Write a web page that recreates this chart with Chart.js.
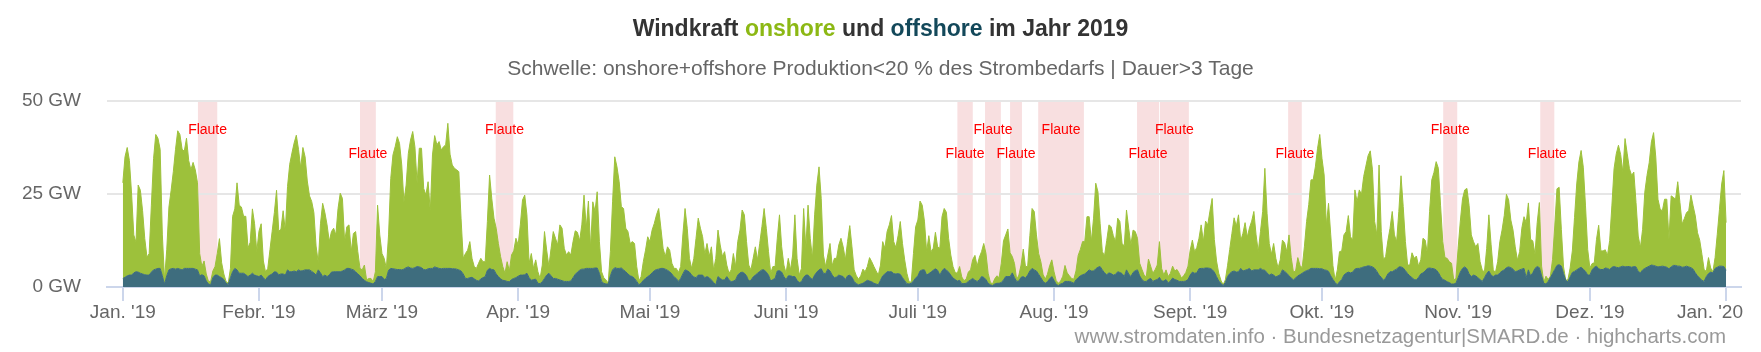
<!DOCTYPE html>
<html lang="de">
<head>
<meta charset="utf-8">
<title>Windkraft onshore und offshore im Jahr 2019</title>
<script src="https://cdn.jsdelivr.net/npm/chart.js@4.4.1/dist/chart.umd.min.js"></script>
<style>
  html, body { margin: 0; padding: 0; background: #fff; }
  #wrap { position: relative; width: 1761px; height: 352px; font-family: "Liberation Sans", Arial, sans-serif; }
  #chart { position: absolute; left: 0; top: 0; }
  .txt { position: absolute; white-space: nowrap; }
  #titel { left: 0; width: 1761px; top: 16.5px; text-align: center; font-weight: bold; font-size: 23px; line-height: 23px; color: #333333; }
  #titel .on { color: #8cb814; }
  #titel .off { color: #13485a; }
  #untertitel { left: 0; width: 1761px; top: 56.5px; text-align: center; font-size: 21px; line-height: 21px; color: #666666; }
  #quelle { right: 35px; top: 325.5px; font-size: 20.5px; line-height: 20.5px; color: #999999; }
</style>
</head>
<body>
<div id="wrap">
  <canvas id="chart" width="1761" height="352"></canvas>
  <div class="txt" id="titel">Windkraft <span class="on">onshore</span> und <span class="off">offshore</span> im Jahr 2019</div>
  <div class="txt" id="untertitel">Schwelle: onshore+offshore Produktion&lt;20 % des Strombedarfs | Dauer&gt;3 Tage</div>
  <div class="txt" id="quelle">www.stromdaten.info · Bundesnetzagentur|SMARD.de · highcharts.com</div>
</div>
<script>
// Werte alle 12 Stunden ab 1.1.2019 00:00 (GW), aus der Grafik abgelesen
// gesamt = Oberkante der Fläche (onshore + offshore)
const gesamt = [
  28, 35, 37.5, 34, 25, 14, 12, 27.4, 26, 20.5,
  13, 8, 9, 22, 34.5, 41, 40, 37, 14, 2,
  10, 21.5, 26, 31, 37, 42, 41, 37, 36.5, 40,
  34, 31.5, 33.5, 31.5, 28, 9, 5.5, 7, 3.5, 1.5,
  1.5, 4.3, 5.5, 9, 13, 6.5, 3.5, 1.5, 1, 5,
  19, 21, 28, 22, 21.5, 19, 19, 10.5, 12, 21,
  17, 9.5, 15, 17, 7, 4, 5, 10, 15, 20,
  26, 15, 15.5, 20.5, 15, 27, 33, 36, 38.7, 40.8,
  37, 32, 37.5, 35, 28.5, 24.5, 23, 20, 11, 6.5,
  17, 22.5, 20,
  // Feb./März
  16.7, 12.2, 14.9, 15.8, 14, 21.1, 25.2, 23.8, 12.2, 16.2,
  16.7, 9.5, 14.4, 14.9, 9.5, 5, 4.6, 5.9, 1.9, 2.3,
  2.3, 1.4, 4.1, 22, 14, 9, 7.7, 5, 14, 29.2,
  35.5, 37.7, 40.4, 38.6, 32.8, 22.9, 27.4, 35.9, 39.5, 41.8,
  37.7, 27.9, 37.3, 37.3, 26.5, 24.7, 28.3, 20.3, 35.5, 40.7,
  38.2, 39.1, 36.8, 37.7, 38.2, 44, 35.7, 32.8, 31.9, 31.5,
  31, 18.5, 7.7, 9, 9.9, 12.2, 7.7, 5.5, 5, 6.4,
  7.7, 6.8, 6.8, 17.6, 30.1, 23.8, 18.5, 15.8, 11.7, 8.2,
  5.5, 3.7, 6.8, 4.3, 8.6, 9.7, 13.1, 11.3, 16.7, 23.4,
  24.7,
  // April/Mai
  19.4, 6.4, 9, 5, 7.3, 4.1, 2.3, 5.9, 14.9, 9.9,
  5.5, 10.4, 14.9, 13.1, 11.3, 16.7, 15.8, 10.4, 8.6, 9.5,
  8.6, 12.2, 15.1, 14.7, 12.4, 16.7, 24.7, 15.8, 23.1, 10.4,
  22.9, 20.3, 25.6, 12.2, 4.1, 2.5, 1.9, 1, 9.5, 22.9,
  35, 32.3, 28.3, 21.6, 21.1, 15.8, 14.9, 11.7, 12.2, 11.7,
  5.5, 1.6, 2.8, 6.8, 9.9, 13.5, 12.2, 15.3, 17.1, 19.4,
  21.1, 15.8, 10.4, 8.2, 10.8, 9.9, 6.4, 5, 5, 3.9,
  5.5, 14, 21.1, 15.8, 7.7, 5, 7.7, 13.1, 18.5, 15.8,
  13.5, 8.8, 11.7, 8.2, 10.8, 4.6, 7.7, 15.3, 11.3, 8.2,
  9.5,
  // Mai/Juni
  5.9, 3.7, 4.6, 9, 5.5, 12.2, 15.3, 20.7, 19.4, 12.2,
  5.9, 4.6, 7.7, 10.8, 7.3, 11.7, 16.2, 21.1, 15.8, 9.5,
  3.7, 5.5, 5.5, 13.1, 19.4, 10.8, 5.9, 3.7, 7.7, 4.6,
  8.6, 19.4, 7.7, 3.2, 5, 21.1, 10.4, 22, 13.1, 7.7,
  19.4, 27.4, 32.3, 23.8, 8.6, 5.5, 8.6, 11.7, 5.7, 7.7,
  7.7, 11.3, 13.1, 10.8, 7.3, 12.2, 16.5, 10.8, 4.6, 3,
  2.1, 3, 4.8, 4.1, 5.5, 7.9, 6.8, 5.5, 4.3, 3.2,
  5.9, 12.2, 10.4, 14.9, 16.7, 19.2, 12.2, 10.6, 13.8, 17.6,
  11.7, 7.3, 3.7, 1.4, 1.3, 9, 16.2, 18, 23.1, 22,
  17.7,
  // Juli/Aug.
  9.5, 13.8, 9.5, 10.4, 14.7, 10.8, 10.4, 18.9, 21.1, 20.1,
  13.1, 8.6, 5.5, 3.9, 3.7, 5.5, 2.7, 1.7, 2.1, 4,
  4.6, 7.4, 8.5, 5.6, 8, 9.5, 11.7, 9.1, 3.7, 1.3,
  0.8, 2.2, 3, 2.5, 6.4, 12.4, 14, 15.6, 9.2, 8.2,
  6.3, 2, 3.2, 5.9, 10.2, 5.5, 5.5, 13.8, 21.1, 20.3,
  14, 9, 6.8, 3.4, 2.1, 3.4, 5.7, 7.3, 4.1, 1.7,
  1, 1.6, 2.9, 5.8, 3.8, 3, 2.3, 2.1, 4.3, 8.5,
  10.1, 12.2, 12.2, 18.9, 18.9, 12.2, 18.5, 27.9, 25.6, 17.1,
  9.5, 8.4, 12.5, 16.7, 16.2, 13.8, 12.2, 18.5, 17.6, 11.6,
  11.1,
  // Aug./Sept.
  20.7, 15.8, 11.3, 15.3, 14.9, 13.1, 6.4, 4.8, 3.2, 2.7,
  7.5, 5.6, 3.7, 4.6, 5.9, 12.2, 5, 3.2, 4.6, 2.8,
  3.7, 5.6, 4.3, 4.7, 3.7, 2.4, 3, 3.9, 5.6, 9.9,
  12.6, 9.5, 10.6, 13.1, 16.7, 12.2, 17.7, 16.7, 20.4, 23.8,
  12.8, 7, 3.7, 1.8, 0.6, 1.9, 5.7, 10.1, 14.4, 18.6,
  16.3, 19.4, 12.4, 14.4, 17.3, 13.4, 15.9, 17.7, 20.3, 14,
  9.5, 14.9, 20.3, 31.9, 19.8, 11.7, 8.8, 11.7, 7.7, 5.1,
  7.3, 12.6, 11.9, 9.5, 14, 7.9, 4, 4.3, 7.9, 5.8,
  5.2, 10.8, 17.6, 22.2, 28.8, 28.8, 32.3, 37.3, 41, 34.6,
  30.1,
  // Okt./Nov.
  16.7, 22.5, 14, 5.7, 1.8, 4.6, 9.5, 9.7, 14, 14.9,
  19.2, 13.5, 12.6, 26.1, 22.9, 26.1, 24.9, 29.7, 32.5, 35.3,
  36.6, 31.5, 17.6, 14, 32.8, 14.9, 7.3, 8.2, 12.4, 15.8,
  20.3, 14, 12.2, 20.3, 29.9, 21.6, 12.2, 5.9, 5.9, 9.2,
  7.7, 8.3, 5.6, 7.3, 13.1, 12.6, 9, 20.3, 28.8, 30.8,
  33.7, 31.9, 22, 12.2, 7.9, 7.7, 6.8, 6.4, 1.9, 2.3,
  10.4, 17.7, 23.7, 26.1, 26.5, 21.9, 14, 12.2, 10.8, 11.7,
  6.8, 4.5, 4.1, 10.4, 19.4, 11.5, 4.6, 3.9, 6.8, 12.2,
  15.3, 19.2, 24.9, 23.4, 18, 15.3, 10.8, 7.2, 9.5, 15.8,
  18.9,
  // Nov./Dez.
  17.3, 22.6, 12.8, 12.4, 8.8, 17.3, 22.7, 5.6, 1.3, 2.9,
  2, 2.9, 7.4, 16.4, 26.4, 26.8, 15.5, 5.4, 1.8, 2,
  5.1, 9.7, 18.7, 27.7, 33.6, 36.7, 32.2, 21.8, 10.1, 5.1,
  6.3, 6.5, 12.8, 16.6, 9.7, 9.7, 10, 8.5, 12.5, 21.8,
  31.8, 35.8, 38.1, 35.6, 30.9, 39.9, 35.8, 31.8, 30, 30.9,
  22.7, 13.7, 10.6, 15.5, 25.5, 30, 33.4, 39, 41.5, 34.9,
  23.6, 20.9, 20.5, 23.6, 23.6, 12.8, 24.5, 24.1, 23.6, 28.3,
  22.7, 16.9, 18.4, 20, 20.5, 24.7, 21.8, 19.1, 14.6, 12.6,
  8.8, 4.7, 4.2, 7.9, 5.1, 4.1, 7.9, 14.2, 20.9, 27.7,
  31.3, 17.3
];

// offshore = Oberkante der blauen Fläche (GW)
const offshore = [
  2.3, 2.6, 3, 3.2, 3.2, 3.8, 4.1, 4, 3.7, 3.5,
  3.3, 3.2, 3.2, 4, 4.6, 4.8, 5, 5, 3, 0.8,
  3, 4.6, 4.9, 5, 4.8, 5, 4.8, 4.6, 5, 5,
  5, 5, 5, 4.8, 4.6, 3, 3.3, 3, 1.6, 0.8,
  0.6, 2.5, 3.2, 3.2, 2.8, 2.5, 2, 1, 0.7, 2.5,
  4.1, 5, 4.6, 3.7, 3.7, 3.7, 3.3, 2.8, 3.2, 3.7,
  3.2, 3, 2.8, 3.2, 2.5, 1.9, 2.8, 3.2, 3.5, 4.1,
  4, 3.3, 3.5, 3.5, 3.2, 4.6, 4.1, 4.1, 4.3, 4.1,
  4.6, 4.3, 4.4, 4.6, 4.6, 4.6, 4.2, 3.8, 3.2, 4.6,
  3.8, 2.8, 3.2,
  2.8, 3.2, 4, 4.1, 4.1, 4.1, 4.1, 4.3, 4.6, 5,
  5, 4.8, 4.6, 4.1, 3.5, 3, 2.3, 1.8, 1.4, 1.2,
  1, 0.8, 1.5, 2.8, 2.8, 2.8, 2, 2.3, 4.5, 5,
  4.9, 4.8, 4.7, 4.7, 4.6, 4.8, 5.2, 5.4, 5.1, 5,
  5.2, 5.5, 5.4, 5.2, 4.7, 4.6, 4.9, 5, 5, 5.4,
  5.2, 5, 4.9, 5, 5, 5, 5, 4.9, 4.9, 4.8,
  4.6, 4.3, 3.5, 2.3, 2.3, 2.5, 2.6, 2.2, 1.8, 1.6,
  2.2, 2.5, 2.8, 4.5, 5, 4.7, 4.6, 3.5, 2.8, 2.2,
  1.8, 1.7, 1.5, 1.4, 2, 2.3, 2.5, 2.9, 3.2, 3.2,
  3.3,
  3.7, 2.5, 1.8, 2, 2.1, 1, 0.9, 1.4, 2.3, 3.2,
  3.7, 3, 2.3, 2.3, 2.1, 1.9, 1.7, 1.5, 1.5, 1.5,
  1.6, 2.5, 3.4, 4, 4.5, 4.8, 4.8, 5, 5, 5,
  5, 5.1, 5.1, 3.7, 1.5, 1, 0.8, 0.8, 3, 4.6,
  5.2, 5, 5, 5.1, 4.6, 4.1, 3.5, 3, 2.8, 2.3,
  1.5, 0.6, 1, 1.8, 2.3, 2.8, 3.2, 3.8, 4.4, 4.7,
  4.8, 5, 5, 4.8, 4.5, 4.1, 3.5, 2.7, 2.3, 1.5,
  2.3, 3.5, 4.6, 4.4, 4, 3.2, 2.7, 2.5, 3.2, 3.2,
  3.2, 2.5, 2.8, 2.5, 1.9, 1.2, 0.6, 2.8, 2.3, 1.9,
  1.9,
  2.8, 2, 1.4, 1.6, 1.9, 3.2, 3.8, 4, 3.7, 3,
  1.6, 1.8, 2.7, 3.2, 3.7, 4.2, 4.6, 4.6, 4, 3.2,
  1.6, 2, 2.3, 4.3, 4.4, 4, 2.8, 2, 3, 3,
  2.8, 2.8, 1.8, 1.2, 1.4, 2.6, 3.2, 3.2, 2.5, 2,
  3.2, 4, 4.6, 4.9, 3.7, 3.6, 4.8, 4.3, 3.2, 2.5,
  2.7, 3.2, 3, 2.8, 2, 3, 3.2, 2.6, 1.5, 0.9,
  0.6, 0.8, 1, 1.4, 1.8, 1.6, 1.4, 1, 0.8, 0.6,
  1.8, 3, 3.5, 4.1, 4.1, 4.1, 3.6, 3.5, 3.6, 3.4,
  2.5, 1.7, 0.9, 0.8, 1, 1.6, 2.4, 3, 4.3, 4.6,
  4.6,
  3.2, 3.6, 4, 4.5, 4.9, 4.5, 3.2, 4.3, 5, 4.6,
  4, 3.2, 2.4, 2, 1.6, 1.8, 0.9, 0.9, 1, 1.5,
  1.9, 2.3, 1.8, 1.5, 1.9, 2.8, 2.6, 2, 1, 0.6,
  0.4, 0.8, 1, 1, 1.2, 1.9, 2.8, 2.8, 2.8, 3.8,
  2.5, 1.5, 1.6, 2.6, 2.8, 2.4, 3.2, 4.3, 5, 4.6,
  4.3, 3.4, 2.5, 1.5, 1, 1.4, 2.2, 2.8, 1.8, 0.7,
  0.4, 0.8, 1, 1.5, 1.5, 1.5, 1.3, 1, 1.9, 2.5,
  3, 3.3, 3.5, 4, 4.6, 4.3, 4.3, 4.9, 5.3, 5.5,
  4.6, 3.8, 3.3, 3.8, 3.6, 3.2, 3.4, 4.1, 3.9, 3.6,
  2.8,
  4.6, 3.5, 2.8, 3.9, 4.4, 4.6, 3, 2, 1.5, 1.5,
  2, 2.3, 1.5, 1.8, 2, 2.6, 1.6, 1.6, 2, 1.1,
  1.6, 2.4, 2, 1.8, 1.5, 1.5, 1.5, 1.6, 2, 3.2,
  4, 3.7, 3.8, 4.9, 5, 5, 5.1, 5.1, 5, 4.7,
  4, 2.8, 1.6, 1, 0.4, 1.2, 2.8, 3.6, 4.1, 4.3,
  4, 4.1, 5, 4.3, 4.5, 4.7, 5, 4.3, 4.6, 4.6,
  4.6, 5, 4.6, 4.5, 3.8, 3.2, 3.5, 3.2, 2.7, 3,
  3.3, 4.6, 4.2, 3.7, 3, 2.4, 1.9, 2.4, 3, 3.3,
  3.7, 4.1, 4.4, 4.6, 5, 5, 5, 5, 4.9, 4.9,
  4.6,
  4.5, 4.2, 3, 2, 1.2, 0.6, 1.4, 2, 3.2, 3.7,
  4, 3.8, 4, 4.8, 5, 5, 5.2, 5.4, 5.5, 5.7,
  5.6, 5.4, 5, 4.2, 3.2, 2.6, 1.8, 2.4, 3.5, 4.1,
  4.1, 4.5, 4.8, 5.4, 5.4, 5.1, 4.4, 3.6, 3, 2.5,
  2, 1.9, 2.6, 3.5, 3.8, 4.3, 5, 5.1, 5, 4.9,
  4.6, 3.9, 2.8, 2, 1.8, 1.4, 1.2, 0.8, 0.8, 1,
  2.5, 4, 5, 5.4, 4.9, 3.5, 2.8, 3.2, 3, 2.5,
  2, 1.5, 2.5, 3.6, 4.3, 3.2, 2.8, 3.2, 3.2, 3.8,
  4.3, 4.6, 5.2, 5.4, 5.2, 4.8, 4.1, 4.3, 4.6, 4.8,
  5,
  2.5, 4.6, 3, 3.8, 5, 5.5, 5.2, 3, 1, 0.8,
  1.5, 2.5, 3.6, 4.7, 5.8, 6, 5.6, 3.6, 1.8, 1.4,
  2.7, 3.9, 4.2, 4.6, 5, 5.3, 4.8, 4.2, 3.2, 3.2,
  4.6, 5.3, 5.6, 4.9, 4.7, 4.7, 5.1, 5, 4.7, 5.3,
  5.5, 5.3, 5.2, 5.4, 5.6, 5.4, 5.5, 5.5, 5.3, 5.5,
  5.4, 4.2, 3.8, 4.6, 5, 5.3, 5.6, 5.9, 5.8, 5.6,
  5.4, 5.5, 5.6, 5.5, 5.3, 4.9, 5.4, 5.8, 5.8, 5.6,
  5.6, 5.3, 5.4, 5.6, 5.4, 5.2, 4.8, 3.8, 3, 2.4,
  1.8, 1.5, 2.8, 3.6, 4, 3.8, 5, 5.3, 5.6, 5.6,
  5.5, 4.5
];

// Flaute-Zeiträume (Tage seit 1.1.2019)
const flauteVon = [17.1, 54.0, 84.9, 190.0, 196.3, 202.0, 208.4, 230.9, 236.1, 265.3, 300.6, 322.7];
const flauteBis = [21.5, 57.6, 88.9, 193.5, 199.9, 204.7, 218.8, 235.9, 242.7, 268.4, 303.8, 325.9];

// Achsen
const monatsTage = [0, 31, 59, 90, 120, 151, 181, 212, 243, 273, 304, 334, 365];
const monatsLabels = ["Jan. '19", "Febr. '19", "März '19", "Apr. '19", "Mai '19", "Juni '19",
  "Juli '19", "Aug. '19", "Sept. '19", "Okt. '19", "Nov. '19", "Dez. '19", "Jan. '20"];
const gwTicks = [0, 25, 50];

const SCHRITT = 0.5; // Tage pro Messwert
const GRUEN = '#9dc13b';
const BLAU = '#3e6d7e';
const SCHRIFT = '"Liberation Sans", Arial, sans-serif';

if (gesamt.length !== offshore.length) {
  throw new Error('Datenlaenge passt nicht: ' + gesamt.length + ' / ' + offshore.length);
}

const offshorePunkte = offshore.map((v, i) => ({ x: i * SCHRITT, y: v }));
const onshorePunkte = gesamt.map((v, i) => ({ x: i * SCHRITT, y: Math.max(0, +(v - offshore[i]).toFixed(1)) }));

const letzterTick = monatsLabels.length - 1;

const flautenPlugin = {
  id: 'flauten',
  beforeDraw(chart) {
    const { ctx, chartArea, scales } = chart;
    ctx.save();
    ctx.fillStyle = '#f8dfe0';
    flauteVon.forEach((von, i) => {
      const x0 = scales.x.getPixelForValue(von);
      const x1 = scales.x.getPixelForValue(flauteBis[i]);
      ctx.fillRect(x0, chartArea.top, x1 - x0, chartArea.bottom - chartArea.top);
    });
    ctx.restore();
  },
  afterDatasetsDraw(chart) {
    const { ctx, chartArea, scales } = chart;
    ctx.save();
    ctx.fillStyle = '#ff0000';
    ctx.font = '14px ' + SCHRIFT;
    ctx.textAlign = 'center';
    ctx.textBaseline = 'alphabetic';
    flauteVon.forEach((von, i) => {
      const mitte = (scales.x.getPixelForValue(von) + scales.x.getPixelForValue(flauteBis[i])) / 2;
      ctx.fillText('Flaute', mitte, chartArea.top + (i % 2 ? 57 : 33));
    });
    ctx.restore();
  },
  afterDraw(chart) {
    // letztes Monatslabel wie bei Highcharts an den Rand des Plotbereichs geschoben
    const { ctx, chartArea, scales } = chart;
    ctx.save();
    ctx.fillStyle = '#666666';
    ctx.font = '19px ' + SCHRIFT;
    ctx.textAlign = 'right';
    ctx.textBaseline = 'middle';
    ctx.fillText(monatsLabels[letzterTick], chartArea.right + 2, scales.x.top + 14 + 19 * 1.2 / 2);
    ctx.restore();
  }
};

Chart.defaults.font.family = SCHRIFT;

new Chart(document.getElementById('chart'), {
  type: 'line',
  data: {
    datasets: [
      {
        label: 'offshore',
        data: offshorePunkte,
        backgroundColor: BLAU,
        borderColor: BLAU,
        borderWidth: 1,
        fill: 'origin',
        pointRadius: 0,
        tension: 0
      },
      {
        label: 'onshore',
        data: onshorePunkte,
        backgroundColor: GRUEN,
        borderColor: GRUEN,
        borderWidth: 1,
        fill: '-1',
        pointRadius: 0,
        tension: 0
      }
    ]
  },
  options: {
    responsive: false,
    animation: false,
    events: [],
    layout: { padding: { top: 101, right: 20, bottom: 0, left: 0 } },
    plugins: {
      legend: { display: false },
      tooltip: { enabled: false },
      title: { display: false }
    },
    scales: {
      x: {
        type: 'linear',
        min: -3.6,
        max: 368.4,
        afterBuildTicks: s => { s.ticks = monatsTage.map(v => ({ value: v })); },
        afterFit: s => { s.height = 65; },
        grid: { drawOnChartArea: false, color: '#ccd6eb', lineWidth: 2, tickLength: 14 },
        border: { color: '#ccd6eb', width: 2 },
        ticks: {
          autoSkip: false,
          maxRotation: 0,
          padding: 0,
          color: '#666666',
          font: { size: 19 },
          callback: (v, i) => (i === letzterTick ? '' : monatsLabels[i])
        }
      },
      y: {
        stacked: true,
        min: 0,
        max: 50,
        afterBuildTicks: s => { s.ticks = gwTicks.map(v => ({ value: v })); },
        afterFit: s => { s.width = 107; },
        border: { display: false },
        grid: {
          drawTicks: false,
          lineWidth: 2,
          color: c => (c.tick && c.tick.value === 0 ? 'rgba(0,0,0,0)' : '#e6e6e6')
        },
        ticks: {
          padding: 26,
          color: '#666666',
          font: { size: 19 },
          callback: v => v + ' GW'
        }
      }
    }
  },
  plugins: [flautenPlugin]
});
</script>
</body>
</html>
